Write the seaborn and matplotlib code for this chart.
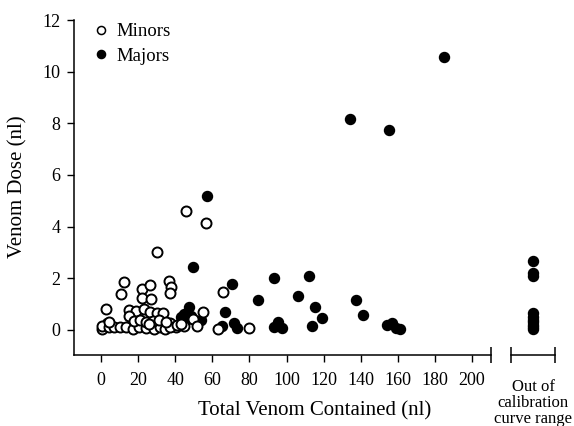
import matplotlib
matplotlib.use("Agg")
import matplotlib.pyplot as plt
import numpy as np
import pandas as pd
import seaborn as sns
from matplotlib.ticker import FixedLocator
from matplotlib.lines import Line2D

# ---- data ----
minors_x = [30, 46, 56.6, 12.4, 10.6, 22.3, 26.5, 22, 27, 36.5, 37.5, 37, 65.8,
            2.5, 14.8, 18.7, 22.9, 26.5, 30.1, 33.5, 15.3, 54.8, 49.4, 51.7,
            44.5, 40.5, 37, 62.9, 79.6,
            0.4, 0.5, 4, 7, 10.3, 13.5, 17, 20.7, 24.3, 28.3, 32, 34.6, 37.3,
            4, 18, 21, 24, 28, 31, 35, 41, 43, 26]
minors_y = [3.0, 4.62, 4.13, 1.87, 1.4, 1.58, 1.73, 1.23, 1.19, 1.91, 1.66, 1.42, 1.46,
            0.81, 0.78, 0.74, 0.81, 0.71, 0.65, 0.66, 0.54, 0.71, 0.43, 0.15,
            0.16, 0.13, 0.26, 0.03, 0.06,
            0.05, 0.17, 0.1, 0.12, 0.13, 0.1, 0.05, 0.12, 0.08, 0.05, 0.1, 0.04, 0.1,
            0.3, 0.33, 0.38, 0.3, 0.35, 0.4, 0.3, 0.2, 0.22, 0.22]

majors_x = [185, 134, 155, 57.1, 49.6, 70.7, 93.2, 112, 84.5, 106, 115.3, 119.3,
            113.9, 137.3, 141.4, 154.4, 157, 159, 161.3, 93.2, 95.3, 97.7, 66.7,
            71.5, 73.5, 65.2, 47.2, 44.7, 48.5, 43, 53.7, 3.4, 46]
majors_y = [10.58, 8.18, 7.75, 5.17, 2.45, 1.77, 2.03, 2.09, 1.16, 1.32, 0.9, 0.48,
            0.17, 1.16, 0.58, 0.19, 0.26, 0.06, 0.03, 0.13, 0.32, 0.06, 0.7,
            0.25, 0.06, 0.16, 0.9, 0.62, 0.54, 0.5, 0.4, 0.28, 0.4]

out_range_y = [2.65, 2.2, 2.07, 0.65, 0.5, 0.4, 0.3, 0.2, 0.1, 0.02]

xticks = [0, 20, 40, 60, 80, 100, 120, 140, 160, 180, 200]
yticks = [0, 2, 4, 6, 8, 10, 12]
x_limits = (-14.6, 210.2)
y_limits = (-0.97, 12)

sns.set_theme(style="ticks")
plt.rcParams['font.family'] = ['Liberation Serif', 'DejaVu Serif']
plt.rcParams['axes.edgecolor'] = 'black'
plt.rcParams['xtick.color'] = 'black'
plt.rcParams['ytick.color'] = 'black'
plt.rcParams['text.color'] = 'black'
plt.rcParams['axes.labelcolor'] = 'black'

fig = plt.figure(figsize=(5.74, 4.26), dpi=100)
ax = fig.add_axes([74/574, 71/426, 417/574, 335/426])
ax2 = fig.add_axes([511/574, 71/426, 44/574, 335/426])

df_maj = pd.DataFrame({'x': majors_x, 'y': majors_y})
df_min = pd.DataFrame({'x': minors_x, 'y': minors_y})
df_out = pd.DataFrame({'x': [0] * len(out_range_y), 'y': out_range_y})

msize = 52
sns.scatterplot(data=df_maj, x='x', y='y', ax=ax, color='black', edgecolor='black',
                s=msize, linewidth=1, zorder=3, legend=False)
sns.scatterplot(data=df_min, x='x', y='y', ax=ax, color='white', edgecolor='black',
                s=msize, linewidth=1.4, zorder=4, legend=False)
sns.scatterplot(data=df_out, x='x', y='y', ax=ax2, color='black', edgecolor='black',
                s=msize, linewidth=1, zorder=3, legend=False, clip_on=False)

# main axes
ax.set_xlim(*x_limits)
ax.set_ylim(*y_limits)
ax.set_xticks(xticks)
ax.set_yticks(yticks)
ax.set_xlabel('')
ax.set_ylabel('')
sns.despine(ax=ax)
for sp in ax.spines.values():
    sp.set_linewidth(1.1)
ax.tick_params(axis='both', which='major', direction='out', length=5, width=1,
               labelsize=13)
ax.tick_params(axis='x', which='major', pad=7)
ax.tick_params(axis='y', which='major', pad=4.8)
ax.xaxis.set_minor_locator(FixedLocator([x_limits[1]]))
ax.yaxis.set_minor_locator(FixedLocator([]))
ax.tick_params(axis='x', which='minor', direction='inout', length=11, width=1.1)

# out-of-range axes
ax2.set_xlim(-1, 1)
ax2.set_ylim(*y_limits)
ax2.set_xlabel('')
ax2.set_ylabel('')
ax2.set_yticks([])
ax2.set_xticks([-1, 1])
ax2.set_xticklabels(['', ''])
for s in ['top', 'left', 'right']:
    ax2.spines[s].set_visible(False)
ax2.spines['bottom'].set_linewidth(1.1)
ax2.tick_params(axis='x', direction='inout', length=11, width=1.1)
ax2.patch.set_alpha(0)

# labels
fig.text(315/574, (426-411)/426, 'Total Venom Contained (nl)', ha='center', va='center',
         fontsize=15)
fig.text(18/574, (426-187)/426, 'Venom Dose (nl)', ha='center', va='center',
         rotation=90, fontsize=15)
fig.text(533/574, (426-403)/426, 'Out of\ncalibration\ncurve range', ha='center',
         va='center', fontsize=12, linespacing=1.0)

# legend
handles = [Line2D([], [], marker='o', linestyle='none', markersize=5.8,
                  markerfacecolor='white', markeredgecolor='black', markeredgewidth=1.1),
           Line2D([], [], marker='o', linestyle='none', markersize=5.8,
                  markerfacecolor='black', markeredgecolor='black', markeredgewidth=1.1)]
ax.legend(handles, ['Minors', 'Majors'], loc='upper left',
          bbox_to_anchor=(0.045, 0.99), frameon=False, fontsize=13.5,
          handlelength=0.9, handletextpad=0.35, labelspacing=0.38,
          borderpad=0, borderaxespad=0)

fig.savefig('out.png', dpi=100)
